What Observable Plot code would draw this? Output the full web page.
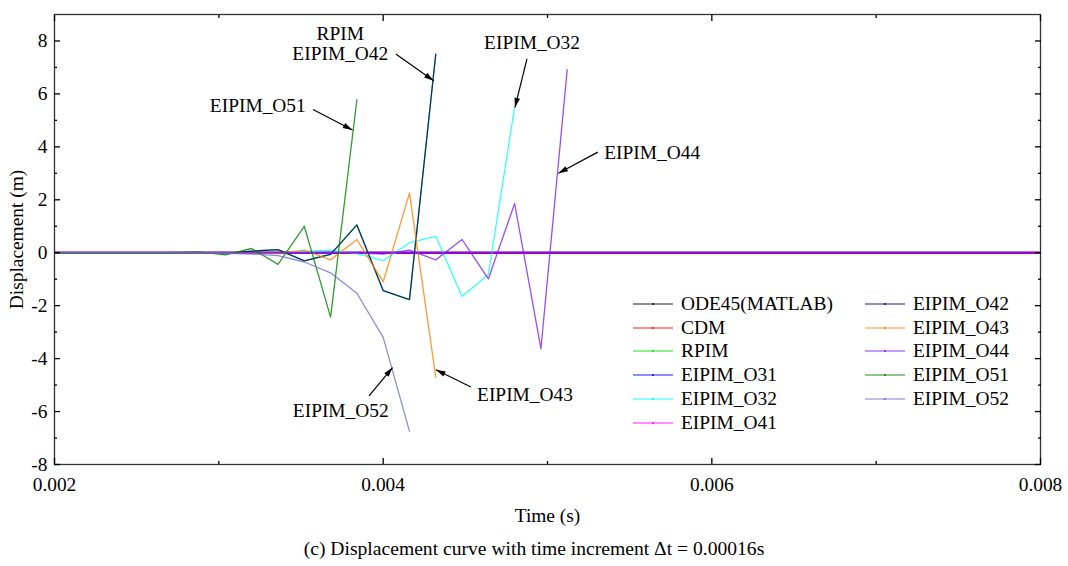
<!DOCTYPE html>
<html><head><meta charset="utf-8">
<script src="https://cdn.jsdelivr.net/npm/d3@7"></script>
<script src="https://cdn.jsdelivr.net/npm/@observablehq/plot@0.6"></script>
<style>
html,body{margin:0;padding:0;background:#fff;}
body{font-family:"Liberation Serif","Times New Roman",serif;color:#000;}
#wrap{position:relative;width:1068px;height:566px;overflow:hidden;}
#chart svg{display:block;}
.leg{position:absolute;display:flex;align-items:center;height:24px;font-size:19.4px;white-space:nowrap;}
.leg svg{margin-right:8px;}
#caption{position:absolute;left:0;width:1068px;top:538px;text-align:center;font-size:19.6px;line-height:22px;}
</style></head><body>
<div id="wrap"><div id="chart"></div><div id="legend"></div><div id="caption">(c) Displacement curve with time increment Δt = 0.00016s</div></div>
<script>
// ---- data ----
const time = [0.00192,0.00208,0.00224,0.0024,0.00256,0.00272,0.00288,0.00304,0.0032,0.00336,0.00352,0.00368,0.00384,0.004,0.00416,0.00432,0.00448,0.00464,0.0048,0.00496,0.00512,0.00528,0.00544,0.0056,0.00576,0.00592,0.00608,0.00624,0.0064,0.00656,0.00672,0.00688,0.00704,0.0072,0.00736,0.00752,0.00768,0.00784,0.008];
const seriesNames = ["ODE45(MATLAB)","CDM","RPIM","EIPIM_O31","EIPIM_O32","EIPIM_O41","EIPIM_O42","EIPIM_O43","EIPIM_O44","EIPIM_O51","EIPIM_O52"];
const seriesColors = ["#000000","#ff0000","#00e000","#0000ff","#00ffff","#ff00ff","#000080","#ff8000","#8020f0","#008000","#7070c8"];
const ode45 = [0,0,0,0,0,0,0,0,0,0,0,0,0,0,0,0,0,0,0,0,0,0,0,0,0,0,0,0,0,0,0,0,0,0,0,0,0,0,0];
const cdm   = [0,0,0,0,0,0,0,0,0,0,0,0,0,0,0,0,0,0,0,0,0,0,0,0,0,0,0,0,0,0,0,0,0,0,0,0,0,0,0];
const rpim  = [0,0,0,0,0,0,0,-0.03,0.06,0.12,-0.31,-0.06,1.05,-1.43,-1.77,7.5];
const o31   = [0,0,0,0,0,0,0,0,0,0,0,0,0,0,0,0,0,0,0,0,0,0,0,0,0,0,0,0,0,0,0,0,0,0,0,0,0,0,0];
const o32   = [0,0,0,0,0,0,0,0,0,0,0.05,0.1,-0.03,-0.3,0.38,0.62,-1.65,-0.82,5.5];
const o41   = [0,0,0,0,0,0,0,0,0,0,0,0,0,0,0,0,0,0,0,0,0,0,0,0,0,0,0,0,0,0,0,0,0,0,0,0,0,0,0];
const o42   = [0,0,0,0,0,0,0,-0.03,0.06,0.12,-0.31,-0.06,1.05,-1.43,-1.77,7.5];
const o43   = [0,0,0,0,0,0,0,0,-0.02,-0.03,0.1,-0.27,0.5,-1.1,2.25,-4.7];
const o44   = [0,0,0,0,0,0,0,0,0,0,0,0,0,-0.05,0.1,-0.27,0.5,-0.99,1.86,-3.62,6.92];
const o51   = [0,0,0,0,0,0,0.03,-0.08,0.16,-0.44,1.0,-2.43,5.78];
const o52   = [0,0,0,0,0,0,0,-0.02,-0.05,-0.11,-0.35,-0.76,-1.53,-3.2,-6.74];
const seriesValues = [ode45,cdm,rpim,o31,o32,o41,o42,o43,o44,o51,o52];
const seriesOpacity = [0.8,0.8,0.8,0.8,0.8,0.5,0.8,0.8,0.8,0.8,0.8];
const seriesWidth = [2.2,2.2,1.3,2.2,1.3,2.2,1.3,1.3,1.3,1.3,1.3];

const xMajor = [0.002,0.004,0.006,0.008];
const xMinor = [0.003,0.005,0.007];
const yMajor = [-8,-6,-4,-2,0,2,4,6,8];
const yMinor = [-7,-5,-3,-1,1,3,5,7];

const annText = ["RPIM\nEIPIM_O42","EIPIM_O32","EIPIM_O51","EIPIM_O44","EIPIM_O52","EIPIM_O43"];
const annT  = [0.003739,0.004906,0.003237,0.005637,0.003742,0.004863];
const annV  = [7.9,7.93,5.56,3.78,-5.95,-5.35];
const arrT1 = [0.004077,0.004875,0.003573,0.005306,0.003914,0.004534];
const arrV1 = [7.51,7.32,5.41,3.80,-5.41,-5.07];
const arrT2 = [0.004307,0.004802,0.003813,0.005066,0.004057,0.004321];
const arrV2 = [6.50,5.49,4.64,3.0,-4.34,-4.42];

// ---- chart ----
const lineMarks = seriesValues.map((vals, i) =>
  Plot.line(vals.map((v, j) => ({t: time[j], v})), {x: "t", y: "v", stroke: seriesColors[i], strokeOpacity: seriesOpacity[i], strokeWidth: seriesWidth[i], clip: true})
);
const ann = annText.map((s, i) => ({s, t: annT[i], v: annV[i], t1: arrT1[i], v1: arrV1[i], t2: arrT2[i], v2: arrV2[i]}));

const chart = Plot.plot({
  width: 1068, height: 530,
  marginLeft: 54, marginRight: 28, marginTop: 14, marginBottom: 66,
  x: {domain: [0.002, 0.008]},
  y: {domain: [-8, 9]},
  style: {fontFamily: "'Liberation Serif','Times New Roman',serif", fontSize: "19.4px", color: "#000", background: "#fff"},
  marks: [
    ...lineMarks,
    Plot.frame({stroke: "#333", strokeWidth: 1.3}),
    Plot.axisX(xMajor, {anchor: "bottom", tickSize: 0, tickPadding: 13, tickFormat: d3.format(".3f"), label: "Time (s)", labelAnchor: "center", labelOffset: 57, labelArrow: "none"}),
    Plot.axisX(xMajor, {anchor: "bottom", tickSize: -6, text: null, label: null, strokeWidth: 1.3}),
    Plot.axisX(xMinor, {anchor: "bottom", tickSize: -3, text: null, label: null, strokeWidth: 1.3}),
    Plot.axisX(xMajor, {anchor: "top", tickSize: -6, text: null, label: null, strokeWidth: 1.3}),
    Plot.axisX(xMinor, {anchor: "top", tickSize: -3, text: null, label: null, strokeWidth: 1.3}),
    Plot.axisY(yMajor, {anchor: "left", tickSize: 0, tickPadding: 7, tickFormat: d => String(d), label: "Displacement (m)", labelAnchor: "center", labelOffset: 45, labelArrow: "none"}),
    Plot.axisY(yMajor, {anchor: "left", tickSize: -6, text: null, label: null, strokeWidth: 1.3}),
    Plot.axisY(yMinor, {anchor: "left", tickSize: -3, text: null, label: null, strokeWidth: 1.3}),
    Plot.axisY(yMajor, {anchor: "right", tickSize: -6, text: null, label: null, strokeWidth: 1.3}),
    Plot.axisY(yMinor, {anchor: "right", tickSize: -3, text: null, label: null, strokeWidth: 1.3}),
    Plot.link(ann, {x1: "t1", y1: "v1", x2: "t2", y2: "v2", stroke: "#000", strokeWidth: 1.2, markerEnd: "arrow"}),
    Plot.text(ann, {x: "t", y: "v", text: "s", fill: "#000", fontSize: 19.4, lineHeight: 1.05})
  ]
});
document.getElementById("chart").appendChild(chart);
// filled arrow heads
d3.select(chart).selectAll("marker").attr("overflow", "visible")
  .selectAll("path").attr("d", "M-12,-3.5L0,0L-12,3.5Z").attr("fill", "#000").attr("stroke", "none");

// ---- legend ----
const legend = document.getElementById("legend");
const legCols = [{x: 633, n: 6}, {x: 865, n: 5}];
let idx = 0;
legCols.forEach(col => {
  for (let r = 0; r < col.n; r++, idx++) {
    const div = document.createElement("div");
    div.className = "leg";
    div.style.left = col.x + "px";
    div.style.top = (292 + r * 23.7) + "px";
    const c = seriesColors[idx];
    div.innerHTML = `<svg width="40" height="24"><line x1="0" y1="12" x2="40" y2="12" stroke="${c}" stroke-opacity="0.6" stroke-width="1.6"/><circle cx="20" cy="12" r="1" fill="${c}"/></svg><span>${seriesNames[idx]}</span>`;
    legend.appendChild(div);
  }
});
</script>
</body></html>
